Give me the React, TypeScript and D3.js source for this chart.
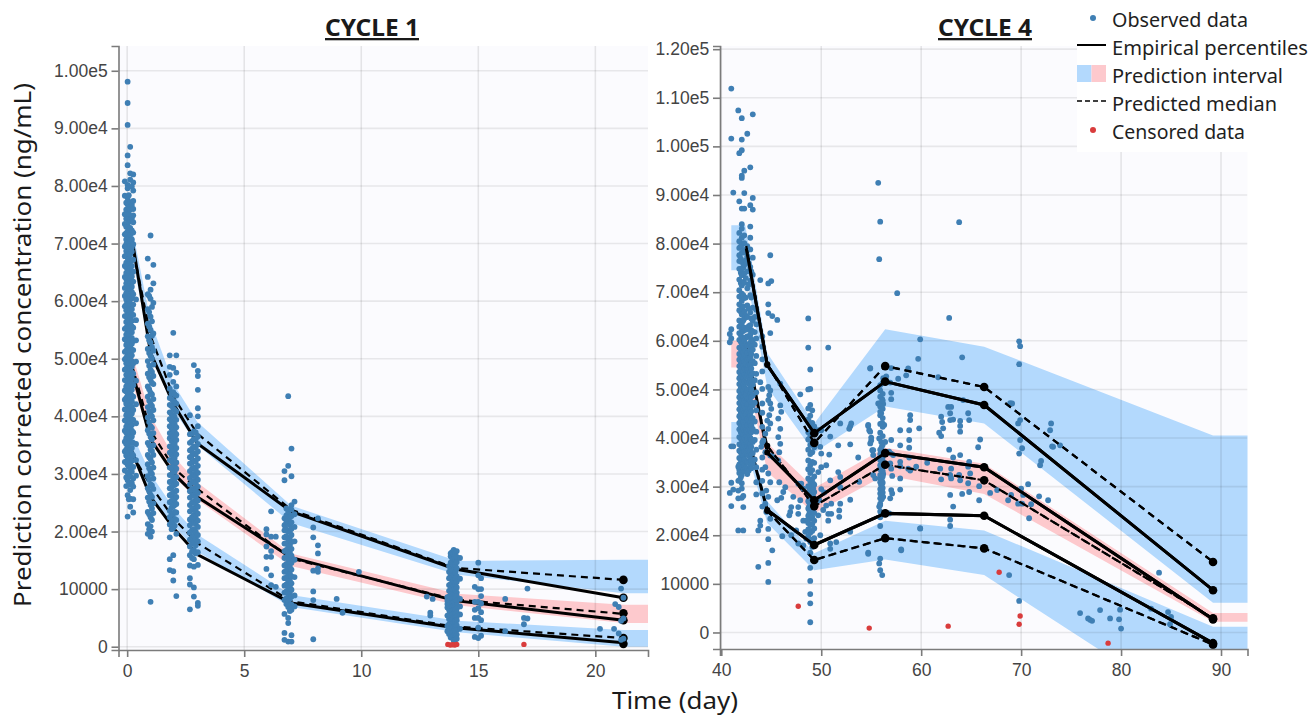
import React, { useEffect, useRef } from "react";
import * as d3 from "d3";

type Column = [number, number[]];
type Pt = [number, number];

// ---------- CYCLE 1 (values in thousands of ng/mL) ----------
const c1Times = [0.2, 1, 2, 3, 7, 14, 21.2];
const c1EmpHi = [71, 51, 42, 35.3, 23.5, 13.5, 8.5];
const c1EmpMd = [48, 36, 30, 26, 15.5, 8, 4.6];
const c1EmpLo = [34, 26, 20.5, 16, 7.6, 3.3, 0.7];
const c1PredHi = [70, 54, 43.2, 37, 23.8, 13.7, 11.6];
const c1PredMd = [49, 37.5, 31, 27.4, 15.3, 8.2, 5.7];
const c1PredLo = [33.5, 28, 22.2, 18, 7.9, 3.5, 1.5];

const c1BandT = [0.2, 1, 2, 3, 7, 14.1, 21.2, 22.3];
const c1UpLo = [68, 51, 41, 35, 21.5, 12.5, 9.3, 9.3];
const c1UpHi = [73, 56.5, 45.5, 39, 24.5, 14.9, 15.1, 15.1];
const c1MdLo = [46, 36, 29.5, 25.5, 14, 7.2, 4.1, 4.1];
const c1MdHi = [51, 40, 33, 28.5, 16.2, 9.2, 7.3, 7.3];
const c1LwLo = [33, 26, 21, 16.5, 6.9, 2.5, 0, 0];
const c1LwHi = [37, 30, 24, 19.5, 9, 4.5, 2.9, 2.9];

const c1Columns: Column[] = [
  [0.02, [98.1, 94.4, 90.6, 85.3, 83.6, 80.2, 79.6, 77.9, 76.8, 75.5, 74.6, 73.2, 72.1, 71.2, 70.1, 69.2, 68.4, 67.5, 66.3, 65.4, 64.6, 63.7, 62.8, 61.9, 60.7, 59.8, 58.9, 57.8, 56.9, 55.7, 54.6, 53.8, 52.7, 51.8, 50.6, 49.5, 48.7, 47.6, 46.5, 45.7, 44.8, 43.6, 42.7, 41.5, 40.6, 39.7, 38.6, 37.8, 36.7, 35.8, 34.6, 33.7, 32.5, 31.6, 30.2, 28.9, 26.3, 22.6]],
  [-0.1, [80.8, 78.3, 75.1, 73.4, 71.6, 69.5, 67.8, 66.1, 64.2, 62.3, 60.9, 59.1, 57.4, 55.2, 53.4, 51.2, 49.9, 48.1, 46.3, 44.5, 42.9, 41.2, 39.3, 37.5, 35.6, 33.9, 32.1, 30.6]],
  [-0.04, [77.1, 75.9, 74.3, 72.9, 71.8, 70.7, 69.9, 68.7, 67.9, 66.7, 65.9, 64.9, 63.9, 63.1, 62.4, 61.4, 60.3, 59.4, 58.4, 57.4, 56.4, 55.4, 54.2, 53.2, 52.4, 51.4, 50.2, 49.2, 48.3, 47.2, 46.2, 45.2, 44.3, 43.2, 42.2, 41.1, 40.2, 39.2, 38.2, 37.2, 36.2, 35.2, 34.2, 33.2, 32, 29.4, 27.9]],
  [0.07, [78.4, 76.4, 75.2, 73.8, 72.4, 71, 70.3, 69.4, 68.2, 67.3, 66.4, 65.2, 64.3, 63.4, 62.4, 61.5, 60.4, 59.5, 58.5, 57.5, 56.5, 55.2, 54.3, 53.4, 52.4, 51.3, 50.3, 49.3, 48.4, 47.4, 46.4, 45.3, 44.3, 43.3, 42.4, 41.3, 40.4, 39.4, 38.4, 37.3, 36.3, 35.3, 34.4, 33.4, 31.3, 30.1, 28.1, 25.6]],
  [0.13, [86.8, 82.2, 81.1, 77.2, 75.9, 74.1, 72.7, 71.5, 70.4, 69.6, 68.1, 66.9, 65.7, 64.1, 63.1, 62.2, 60.9, 59.6, 58.4, 57.1, 56.2, 54.9, 53.4, 52.2, 51.1, 49.9, 48.2, 47.1, 45.9, 44.2, 43.2, 41.9, 40.2, 39.1, 38.2, 36.9, 35.7, 34.1, 33.1, 31.9, 30.7, 29.6, 28.5, 27.2, 25.7, 24.3]],
  [0.2, [79.9, 76.7, 74.4, 72.3, 70.7, 69.3, 68.6, 67.1, 66.1, 65.1, 64.3, 63.3, 62.5, 61.6, 60.5, 59.4, 58.6, 57.6, 56.6, 55.6, 54.6, 53.6, 52.6, 51.6, 50.6, 49.6, 48.6, 47.6, 46.6, 45.6, 44.6, 43.6, 42.6, 41.6, 40.5, 39.5, 38.5, 37.5, 36.5, 35.5, 34.5, 33.5, 32.3, 30.4, 28.4]],
  [0.26, [82, 80.6, 79.2, 77.4, 76, 74.9, 73.7, 71.9, 69.9, 67.2, 65.1, 63.4, 61.2, 59.4, 57.6, 55.4, 53.1, 51.5, 49.2, 47.4, 45.4, 43.4, 41.1, 39.4, 37.2, 35.4, 33.2, 31.2, 29.2, 27.8, 25.6, 23.3]],
  [0.38, [60.3, 56.7, 53.2, 49.5, 46.2, 42.1, 38.8, 35.2, 32.4, 29.7]],
  [0.88, [67.4, 64.2, 61.2, 58.6, 56.1, 53.9, 51.7, 49.6, 47.4, 45.2, 43.4, 41.6, 39.8, 37.6, 35.4, 33.3, 31.7, 29.6, 27.5, 25.9, 23.4, 21.3, 19.6]],
  [0.94, [60.9, 58.1, 55.6, 53.2, 51, 48.8, 46.8, 44.7, 42.7, 40.9, 39, 37, 35, 32.9, 31, 29, 27, 25.2, 23, 20.4]],
  [1.0, [71.4, 62, 60.4, 57.3, 55, 52.8, 50.5, 48.1, 46.3, 44.1, 42.2, 40.4, 38.3, 36.4, 34.2, 32.6, 30.4, 28.2, 26.4, 24.6, 22.5, 20.9, 19.1, 7.8]],
  [1.06, [59, 56.5, 54, 52, 50, 47.7, 45.8, 43.8, 41.8, 40, 38, 36, 34, 32, 30, 28, 26, 24, 22, 20]],
  [1.12, [66.3, 63.1, 59.7, 54.4, 51.4, 49, 47, 45.6, 43, 41.1, 39.3, 37.1, 35, 33.3, 31.1, 29.2, 27.4, 24.9, 23.2]],
  [1.82, [50.6, 48.6, 47.2, 44.8, 43.2, 42, 40.7, 39.5, 38.3, 37.1, 36.2, 34.8, 33.7, 32.4, 31.1, 29.8, 28.6, 27.5, 26.3, 25.1, 23.6, 22.5, 21.2, 19, 15.2, 13.3]],
  [1.9, [44, 43, 41.8, 40.3, 39.1, 37.9, 36.8, 35.7, 34.5, 33.3, 32.2, 31, 29.9, 28.7, 27.7, 26.5, 25.3, 24.2, 23, 21.7, 20.4]],
  [1.97, [54.5, 48.4, 46, 44.2, 42.7, 41.3, 40.1, 38.8, 37.7, 36.5, 35.4, 34.1, 33.1, 31.8, 30.4, 29.2, 28, 26.8, 25.7, 24.4, 23.1, 21.9, 20.6, 15.9, 13.1, 11.5]],
  [2.03, [43.8, 42.5, 41.1, 39.9, 38.6, 37.4, 36.3, 35.2, 34, 32.8, 31.5, 30.4, 29.1, 28.1, 26.9, 25.6, 24.6, 23.4, 22.2, 21]],
  [2.1, [50.6, 47.6, 45.2, 43.6, 42.2, 40.8, 39.4, 38.1, 36.9, 35.9, 34.5, 33.4, 32, 30.9, 29.5, 28.3, 27.1, 26, 24.8, 23.3, 22, 19.6, 8.8]],
  [2.68, [40.2, 36.9, 35.4, 34.1, 32.9, 31.8, 30.5, 29.3, 28.2, 27, 25.9, 24.6, 23.5, 22.1, 21.1, 19.8, 18.6, 17.4, 15.9, 14.1, 11.9, 10.8, 6.5]],
  [2.77, [37, 35.7, 34.4, 33.2, 32, 30.9, 29.7, 28.5, 27.3, 26.2, 25, 23.8, 22.5, 21.5, 20.2, 19, 17.9, 16.5, 15.4]],
  [2.85, [48.9, 37.4, 36.1, 34.8, 33.6, 32.3, 31.1, 30, 28.8, 27.5, 26.4, 25.2, 24, 22.9, 21.7, 20.4, 19.3, 18.1, 16.8, 15.2, 13.9, 10.3, 8.7]],
  [2.93, [37.2, 36, 34.6, 33.4, 32.1, 30.8, 29.6, 28.4, 27.2, 26, 24.8, 23.6, 22.4, 21.3, 20, 18.8, 17.6, 16.2]],
  [3.02, [47.9, 47, 44.6, 41.4, 40, 38.3, 36.5, 35.2, 33.9, 32.7, 31.4, 30.2, 29, 27.8, 26.7, 25.4, 24.3, 23.1, 21.9, 20.8, 19.4, 18.3, 16.4, 14.2, 7.6, 7.1]],
  [5.95, [20.4, 19.5, 17.4, 15.6, 13.5]],
  [6.15, [23.5, 19.1, 16.6, 15.6, 12.4, 10.7]],
  [6.35, [19.1, 10.4]],
  [6.72, [30.5, 28.9, 22.3, 21.1, 20.2, 19, 17.9, 16.6, 15.4, 14.1, 13, 11.9, 10.6, 9.4, 8.1, 5.7, 2.4, 1.2]],
  [6.8, [24, 22.8, 21.6, 20.4, 19.2, 18, 16.8, 15.6, 14.4, 13.2, 12, 10.8, 9.6, 8.4, 7.4]],
  [6.88, [43.5, 31.4, 23.4, 22.2, 21.3, 20, 18.7, 17.4, 16.2, 15.2, 13.8, 12.6, 11.4, 10.2, 9.1, 7.8, 6.9, 5, 4.1, 0.9]],
  [6.95, [23.9, 22.5, 21.2, 20, 18.9, 17.6, 16.4, 15, 13.9, 12.7, 11.5, 10.4, 9.4, 8.3, 7.2, 6.2]],
  [7.02, [34.4, 29.6, 24.6, 23.8, 22.7, 21.6, 20.5, 19.4, 18.2, 17, 15.8, 14.6, 13.4, 12.2, 11, 9.9, 8.7, 7.3, 6.4, 2, 0.9]],
  [7.15, [25.2, 23, 20.8, 18.3, 15.1, 12.1, 8.9, 7]],
  [7.95, [20.7, 19, 8.1, 9.6, 13.2, 1.3]],
  [8.15, [22.3, 17.6, 16.2, 13, 13.6]],
  [8.95, [8.3]], [9.2, [5.9]],
  [9.9, [13]],
  [12.8, [8.7]], [12.95, [5.9, 5.4]], [13.05, [8.3]],
  [13.68, [8.6, 8, 7.4, 6.8, 5.4, 3.6, 2.7]],
  [13.75, [14, 13, 11.9, 10.7, 9.7, 8.7, 7.9, 7.2, 6.4, 5.6, 4.8, 3.9, 3.1, 2.2]],
  [13.82, [16.2, 15.7, 14.6, 13.5, 12.5, 11.9, 10.9, 10.1, 9.5, 8.9, 8.2, 7.5, 6.8, 6.1, 5.3, 4.5, 3.9, 3, 2.3, 1.6]],
  [13.88, [16.4, 15.4, 14.3, 13.1, 12, 11, 10, 9.2, 8.4, 7.6, 6.9, 6.2, 5.5, 4.7, 4, 3.2, 2.5, 1.7]],
  [13.95, [16.8, 16.1, 15.2, 14.1, 13.3, 12.5, 11.5, 10.5, 9.8, 9.1, 8.5, 7.7, 7.1, 6.4, 5.7, 5, 4.2, 3.4, 2.6, 1.9, 1.1]],
  [14.02, [16.3, 15.2, 14.2, 12.9, 11.9, 10.8, 9.8, 9, 8.3, 7.4, 6.7, 6, 5.3, 4.4, 3.6, 2.7, 2, 1.2]],
  [14.08, [16.6, 15.6, 14.7, 13.6, 12.2, 11.3, 10.3, 9.4, 8.8, 8, 7.2, 6.6, 5.9, 5.2, 4.6, 3.7, 2.9, 2.1, 1.4]],
  [14.22, [15.4, 11.8, 8.3, 7, 5.6, 3.1]],
  [14.85, [10.4, 7.8, 6.4, 5, 1.7]],
  [15.0, [14.6, 12.4, 10, 7.8, 6.7, 5, 3.3, 1.5]],
  [15.12, [11.9, 10, 8.8, 7.5, 6, 4.6, 1.9]],
  [16.15, [8.3, 2.7]], [16.95, [5, 3.9]], [17.1, [10.1, 4.9]],
  [20.2, [3.1]], [20.8, [3.1]], [20.85, [7.4]], [21, [6.9, 2.3]], [21.1, [10.1, 4.5, 1.2]], [21.2, [8.5, 4.9, 1.4]],
];
const c1Censored: Pt[] = [[13.7, 0.4], [13.8, 0.3], [13.9, 0.35], [14, 0.3], [14.08, 0.4], [16.95, 0.4]];
const c1EndMarkers = [11.6, 8.5, 5.8, 4.6, 1.5, 0.5];

// ---------- CYCLE 4 ----------
const c4Times = [42.5, 44.6, 49.3, 56.4, 66.3, 89.2];
const c4EmpHi = [79, 55, 41, 51.6, 46.8, 8.7];
const c4EmpMd = [59, 37, 27.2, 36.9, 34, 2.7];
const c4EmpLo = [41, 25.2, 18, 24.5, 24, -2.2];
const c4PredHi = [79.5, 55.2, 39, 54.8, 50.5, 14.5];
const c4PredMd = [57, 38.4, 26, 34.5, 31.3, 2.9];
const c4PredLo = [42, 25, 14.9, 19.4, 17.3, -2.5];

const c4BandT = [41, 42.4, 44.6, 49.3, 56.4, 66.3, 89.2, 92.7];
const c4UpLo = [74.5, 74.5, 50.5, 37, 46.5, 43, 6.1, 6.1];
const c4UpHi = [83.8, 83.8, 57.5, 43, 62.4, 58.8, 40.5, 40.5];
const c4MdLo = [54.5, 54.5, 33, 24.5, 32.4, 28.5, 2.2, 2.2];
const c4MdHi = [60, 60, 39, 29.7, 38, 34.7, 4, 4];
const c4LwLo = [38.9, 38.9, 22.5, 12.8, 15, 11.8, -18.7, -18.7];
const c4LwHi = [43.3, 43.3, 27, 16.3, 23, 21, 1.2, 1.2];

const c4Columns: Column[] = [
  [41.8, [82.2, 80.5, 79.1, 77.6, 76.4, 74.8, 72.6, 70.4, 69.1, 67.5, 66.3, 64.2, 62.9, 61.6, 60.2, 58.6, 57.3, 56.1, 54.8, 53.6, 52.3, 51.1, 49.7, 48.4, 47.2, 45.9, 44.5, 43.1, 41.8, 40.2, 38.7, 37.4, 35.9, 34.6, 33.5, 32.8, 31.3, 88.7, 98.6]],
  [41.95, [79.4, 76.9, 74, 71.9, 69.1, 66, 63.2, 61.2, 59.8, 58.3, 56.8, 55.5, 54.2, 52.9, 51.6, 50.3, 49, 47.7, 46.4, 45.1, 43.8, 42.5, 41.2, 39.9, 38.5, 37, 35.5, 34.1, 31.9]],
  [42.05, [84, 83.1, 81.2, 79.8, 78.1, 76.2, 74.9, 73.5, 71.4, 69.7, 68.2, 66.7, 65.4, 63.6, 62.1, 60.7, 59.2, 57.9, 56.6, 55.2, 53.9, 52.7, 51.4, 50.1, 48.9, 47.5, 46.2, 44.9, 43.6, 42.3, 40.9, 39.6, 38.1, 36.8, 35.2, 33.9, 32.4, 30.7, 29.6, 27.7, 87.2, 93.5, 94, 99.2, 101.4, 105.8]],
  [42.2, [78.2, 75.1, 72.1, 69.4, 67.1, 64.2, 62, 60.4, 59, 57.6, 56.3, 55, 53.7, 52.4, 51.1, 49.8, 48.5, 47.2, 45.9, 44.6, 43.3, 42, 40.7, 39.4, 38, 36.4, 35, 33.6]],
  [42.3, [81.7, 80.1, 78.7, 75.6, 73.9, 71.9, 68.8, 66.1, 64.6, 62.7, 60.1, 58.6, 57.1, 55.7, 54.4, 53, 51.7, 50.5, 49.1, 47.8, 46.6, 45.3, 44.2, 42.7, 41.4, 40, 38.5, 37.2, 35.6, 34.3, 33.2, 95, 90.4, 87.2]],
  [42.45, [76.6, 72.9, 68.9, 65.2, 62.3, 60.7, 59.3, 57.9, 56.6, 55.3, 54, 52.7, 51.4, 50.1, 48.8, 47.5, 46.2, 44.9, 43.6, 42.3, 41, 39.6, 38.2, 36.8, 35.2, 33.9]],
  [42.6, [79.5, 77.4, 74.3, 70.8, 67.3, 64.9, 62.4, 60.9, 59, 57.5, 56.2, 54.1, 52.9, 51.5, 49.9, 48.1, 46.9, 45.5, 44, 42.6, 41.1, 39.8, 38.3, 36.6, 35.1, 33.7, 32.6, 102.6]],
  [42.75, [76, 71.6, 66.6, 63, 60.8, 59.3, 57.8, 56.4, 55, 53.7, 52.4, 51.2, 49.6, 48.3, 47, 45.7, 44.3, 43, 41.7, 40.3, 39, 37.7, 36.3, 34.9, 33.3]],
  [42.9, [83.5, 81.2, 78.8, 75.2, 72.4, 69.4, 65.8, 63.2, 61.3, 59.6, 58, 56.6, 55.1, 53.6, 52.1, 50.7, 49.2, 47.6, 46.1, 44.6, 43.2, 41.7, 40.1, 38.8, 37.4, 35.7, 34.1, 95.7, 87.9]],
  [43.0, [74.3, 68.9, 64.6, 62.2, 60.4, 58.9, 57.3, 55.7, 54.3, 52.9, 51.5, 50, 48.5, 47, 45.5, 44.1, 42.6, 41.2, 39.7, 38.2, 36.7, 35.4, 33.8]],
  [43.15, [77.1, 73.6, 66.8, 64.1, 61.9, 60, 58.2, 55.8, 53.3, 51, 48.8, 46.7, 44.1, 41.9, 39.2, 36.9, 34.8, 106.6, 89.4, 87]],
  [43.35, [64.9, 61.8, 59.2, 55.4, 51.9, 47.3, 43.4, 39.6, 35.6]],
  [43.5, [66.4, 63.4, 60.5, 56.9, 53.2, 49.4, 45.7, 41.3, 37.6, 34, 30.9, 28.4]],
  [44.1, [60.9, 58.8, 56.2, 53.7, 50.1, 47.1, 45.2, 42.3, 39.1, 36, 33.5, 31.2, 28.6, 25.9]],
  [41.0, [111.9, 101.6, 62.4, 60.5, 38.3, 30.8, 26]],
  [40.85, [61.4, 59.7, 28.7]],
  [41.2, [90.5, 29.4, 38.3]],
  [41.7, [107.4, 21, 34.1, 31.2, 29.2, 27.6]],
  [42.2, [21, 25.8, 28.1]],
  [48.7, [64.6, 58.6, 50, 46.1, 43.8, 41.2, 39.7, 37.6, 35.4, 33.6, 31.7, 30.1, 28.6, 27, 25.5, 24, 22.5, 21.2, 19.8]],
  [48.8, [30, 29.2, 28.4, 27.6, 26.8, 26, 25.2, 24.4]],
  [48.9, [54.1, 50.1, 46.8, 44.6, 42.9, 40.4, 38.6, 36.7, 34.4, 32.8, 31.1, 29.4, 27.9, 26.4, 24.9, 23.4, 22.1, 20.5, 18.6, 16.4, 13.3, 10.6, 7.9, 6, 2.1]],
  [49.1, [45.7, 43.1, 41.9, 39.2, 37.1, 35.1, 33.4, 31.5, 29.9, 28.2, 26.8, 25.2, 23.7, 22.3, 20.9, 19.1, 17.6]],
  [49.2, [30.6, 29.6, 28.7, 27.9, 27.1, 26.3, 25.5, 24.7]],
  [49.3, [42.4, 38.1, 34.9, 32.1, 30.4, 28.9, 27.5, 26.1, 24.6, 23, 21.4, 19.4]],
  [50.7, [58.6]],
  [55.9, [50.9, 49.8, 48.5, 47.2, 46.5, 44.7, 42.9, 41.1, 37.6, 36.7, 33.6, 31.8, 30.9, 29.5, 27.6, 26.2, 24.9, 23.7]],
  [56.05, [38.2, 37.3, 36.4, 35.4, 34.4, 33.4, 32.4, 31.4, 30.4, 29.4, 28.4, 27.4]],
  [56.15, [51.4, 49.1, 47.7, 46, 44.1, 42.3, 40.4, 38.6, 36.1, 35.3, 34.1, 33.2, 32.1, 30.8, 29.7, 28.8]],
];
const c4Scatter: Pt[] = [
  [44.9, 77.6], [43.9, 72.5], [45, 72.3], [44.7, 71.8], [44.7, 67.5], [44.7, 65.7], [45.1, 65.1], [45.6, 64.3], [44.9, 61.6],
  [45.9, 51.2], [43.9, 51.5], [44.7, 50.5], [44.9, 49.8], [44.8, 48.8], [44.7, 47.8], [44.9, 47.1], [45, 46], [44.8, 44.7], [44.6, 43.6], [44.9, 43], [44.7, 41.9], [44.4, 40.9], [44.2, 39.5], [44, 38.2], [44.4, 37.1], [44.9, 36.4], [45.2, 36.1], [44.4, 34], [44.7, 32.7], [44.9, 30.9], [44.5, 29.2], [44.7, 27.9], [44.4, 26.5], [44.5, 24.8], [44.9, 23.4], [43.9, 23], [43.9, 22], [43.7, 21], [44.7, 21.3],
  [43.7, 13.5], [44.7, 14.3], [45.1, 16.9], [44.7, 19.2], [44.7, 10.4],
  [45.9, 46.7], [46, 45.4], [45.7, 44], [45.9, 41.9], [45.7, 40.2], [45.9, 38.8], [45.8, 37.1], [45.7, 35.4], [45.8, 30.9], [46.4, 29.9], [46.2, 28.9], [46, 27.7], [45.6, 27.2], [46.9, 24.8], [46.8, 24.1], [46.1, 19.8], [47, 20], [47.5, 21], [47.7, 18.3], [48.2, 17.9], [48.5, 19.3], [47.7, 30.6], [48, 30.6], [47.2, 27.9], [47, 25.8], [48.2, 29.6], [47.9, 27.2], [47.7, 25.8], [48.2, 23], [48.4, 20.7], [47.7, 24.4], [48.5, 23], [47.9, 49],
  [49.9, 38.2], [50, 36.8], [49.7, 33], [50, 34], [49.7, 41.6], [50, 41.6], [50.9, 40.3], [51.7, 38.5], [52.9, 38.7], [52.9, 42.4], [53, 43], [51.9, 43], [52.8, 41.9], [51.7, 33], [51.9, 32], [51.9, 29.9], [50.9, 31.3], [50.5, 34.4], [50.8, 36.6], [53.7, 36], [53.8, 31], [52.9, 27.3], [51.9, 26.5], [51.8, 25.1], [51.8, 23.8], [51, 26.5], [50.7, 24.4], [51, 24.4], [50.7, 23], [52.9, 20.7], [51.5, 18.6], [50.9, 18.3], [50.9, 17.2], [49.9, 20], [54.7, 42.5], [54.8, 41.6], [55, 39.5], [55.1, 37.5], [54.9, 54.3], [57.7, 52.2], [54.7, 16.2], [58, 16.9], [59.9, 21.4], [58.7, 54.3], [58.5, 52.9],
  [50, 29.5], [49.8, 27.2], [50.3, 28.8], [50.5, 26.1], [50.2, 25.2], [49.7, 24.1],
  [55.7, 92.5], [55.9, 84.5], [63.8, 84.4], [55.8, 76.8], [57.6, 69.8], [62.8, 64.7], [59.9, 60.3], [59.7, 56.3], [64.1, 56.6], [69.8, 59.9], [69.9, 58.9], [69.8, 55.2], [54.9, 54.4], [57, 54.4], [56.5, 52.7], [56.2, 52.3], [61.7, 52.5], [56.9, 51.4], [57, 49.3], [57, 48], [56.1, 48], [64.2, 47.8], [62.7, 46.4], [68.9, 47.2],
  [55.7, 47.1], [56.2, 47], [55.9, 45.4], [56, 45.1], [56.1, 43.1], [56.3, 42.7], [54.7, 42.7], [54.9, 41.3], [55, 40.1], [54.9, 38.9], [55.8, 39.9], [56, 39.2], [56.4, 39.2], [57, 39.6], [57.9, 41.6], [58.8, 41.6], [59.8, 42], [58.9, 44.7], [58.9, 43.7], [57.9, 38.5], [58.8, 39.6], [58.8, 38], [55.2, 37.5], [55.2, 36.5], [57, 36.8], [57.2, 36.5], [56.8, 37.2], [55.9, 35.5], [55.9, 34.4], [56.4, 34.8], [56.9, 34.8], [57, 33.7], [57.9, 35.1], [57.9, 34.2], [58.8, 36], [58.7, 33.7], [58.9, 33.3], [59.5, 34.1], [60.6, 34.9], [55.2, 32.4], [55.4, 31.7], [55.9, 32.4], [56.2, 32.6], [57.1, 32.2], [56, 31.3], [56, 30.3], [57.9, 31.7], [55.9, 28.6], [56.2, 27.9], [57, 29.3], [57.1, 28.6], [56.9, 27.6], [57.9, 29.4], [55.9, 26.5], [55.8, 25.9], [56.4, 24.5], [56.8, 24.5], [55.9, 21.9], [59.9, 21.4], [54.7, 16.4], [58, 17.1], [55.9, 15.2], [55.8, 14.2], [55.9, 12.8], [56.1, 11.8],
  [62, 44.4], [62.1, 43.3], [62.2, 42], [61.8, 41.1], [62, 40.4], [63, 46.4], [62.9, 45.1], [62.9, 43.7], [63.2, 43.8], [63.9, 43.5], [63.9, 42.5], [63.9, 41.3], [64.7, 45.1], [64.8, 43.7], [65.9, 39.7], [65.7, 38.1], [62.8, 37.6], [63.2, 36], [63.9, 36.5], [61.9, 33.7], [63, 33.7], [62, 31.5], [62.9, 32.4], [63, 31.7], [63.8, 32.4], [63.9, 31.3], [64.8, 35.1], [64.7, 34.1], [64.9, 32.7], [64.7, 30.7], [62.9, 28.3], [64.1, 28.5], [64.8, 28.9], [65.8, 30.1], [65.8, 27.2], [63.2, 25.9], [62.9, 23.2], [62.9, 21.9],
  [66.9, 28.7], [67.6, 29.3], [68.7, 27.2], [69, 28.3], [69.7, 26.5], [70.1, 26.5], [70, 29.6], [70.7, 30.5], [70.2, 28.3], [71, 26.4], [71.8, 28], [72.7, 27.2], [70.8, 23.5], [68.8, 11.8], [69.8, 6.5], [69.9, 43.7], [69.7, 43], [69.9, 39.6], [69.8, 36.8], [70.1, 37.9], [69.1, 47.1], [73, 43], [72.9, 41.6], [73.2, 38.2], [72, 35.3], [71.9, 34.4], [73.9, 38.5], [73.1, 38.3],
  [83.8, 12.3], [75.9, 4], [76.7, 2.9], [76.9, 2.6], [77.1, 2.4], [77.9, 4.6], [78.9, 2.9], [79.9, 4.7], [79.8, 2.7], [80, 0.8], [83, 4.9], [84.7, 4.2], [85, 3.2], [84.9, 1.7],
];
const c4Censored: Pt[] = [[47.7, 5.4], [54.8, 0.9], [62.7, 1.3], [67.8, 12.4], [69.9, 3.4], [69.8, 1.7], [78.7, -2.2]];

const c1XTicks = [0, 5, 10, 15, 20];
const c4XTicks = [40, 50, 60, 70, 80, 90];
const c1YTicks = [0, 10, 20, 30, 40, 50, 60, 70, 80, 90, 100];
const c4YTicks = [0, 10, 20, 30, 40, 50, 60, 70, 80, 90, 100, 110, 120];

const legendLabels = ["Observed data", "Empirical percentiles", "Prediction interval", "Predicted median", "Censored data"];
const yLabel = "Prediction corrected concentration (ng/mL)";
const xLabel = "Time (day)";

const BLUE = "#3f7fb4";
const RED = "#d93c3c";
const BAND_BLUE = "#b3d9fd";
const BAND_PINK = "#fdc9cd";
const UI_FONT = "'Noto Sans', 'Open Sans', sans-serif";
const TICK_FONT = "'Liberation Sans', Arial, sans-serif";

const fmtTick = (k: number) => {
  if (k === 0) return "0";
  if (k === 10) return "10000";
  if (k >= 100) return (k / 100).toFixed(2) + "e5";
  return (k / 10).toFixed(2) + "e4";
};

interface PanelCfg {
  id: string;
  xDomain: [number, number];
  xRange: [number, number];
  yDomain: [number, number];
  yRange: [number, number];
  xTicks: number[];
  yTicks: number[];
  bandT: number[];
  bands: [number[], number[], string][];
  times: number[];
  solid: number[][];
  dashed: number[][];
  dotsOnTop: boolean;
  markers: boolean;
  endMarkers?: number[];
  columns: Column[];
  scatter: Pt[];
  censored: Pt[];
}

function drawPanel(svg: d3.Selection<SVGSVGElement, unknown, null, undefined>, c: PanelCfg) {
  const x = d3.scaleLinear().domain(c.xDomain).range(c.xRange);
  const y = d3.scaleLinear().domain(c.yDomain).range(c.yRange);
  const [xl, xr] = c.xRange;
  const [yb, yt] = c.yRange;
  const g = svg.append("g");
  g.append("clipPath").attr("id", c.id).append("rect").attr("x", xl).attr("y", yt).attr("width", xr - xl).attr("height", yb - yt);
  g.append("rect").attr("x", xl).attr("y", yt).attr("width", xr - xl).attr("height", yb - yt).attr("fill", "#fbfbfe");

  const plot = g.append("g").attr("clip-path", `url(#${c.id})`);
  c.bands.forEach(([lo, hi, col]) => {
    const area = d3.area<number>().x((_, i) => x(c.bandT[i])).y0((_, i) => y(lo[i])).y1((_, i) => y(hi[i]));
    plot.append("path").attr("d", area(c.bandT)!).attr("fill", col);
  });
  c.yTicks.forEach((t) => plot.append("line").attr("x1", xl).attr("x2", xr).attr("y1", y(t)).attr("y2", y(t)).attr("stroke", "#000").attr("stroke-opacity", 0.08).attr("stroke-width", 1.6));
  c.xTicks.forEach((t) => plot.append("line").attr("x1", x(t)).attr("x2", x(t)).attr("y1", yt).attr("y2", yb).attr("stroke", "#000").attr("stroke-opacity", 0.09).attr("stroke-width", 1.6));

  const line = d3.line<number>().x((d, i) => x(c.times[i])).y((d) => y(d));
  const lineFrom1 = d3.line<number>().x((d, i) => x(c.times[i + 1])).y((d) => y(d));
  const dash = (sel: any) => sel.attr("fill", "none").attr("stroke", "#000").attr("stroke-width", 2.2).attr("stroke-dasharray", "7 5");
  const solid = (sel: any) => sel.attr("fill", "none").attr("stroke", "#000").attr("stroke-width", 3);

  const drawDots = () => {
    const pts: Pt[] = [...c.scatter];
    c.columns.forEach(([cx, vals]) => vals.forEach((v) => pts.push([cx, v])));
    plot.append("g").selectAll("circle").data(pts).join("circle")
      .attr("cx", (d) => x(d[0])).attr("cy", (d) => y(d[1])).attr("r", 2.9).attr("fill", BLUE);
  };
  // all full lines first; in the second panel the later segments come back over the dots
  c.dashed.forEach((s) => dash(plot.append("path").attr("d", line(s)!)));
  c.solid.forEach((s) => solid(plot.append("path").attr("d", line(s)!)));
  if (c.endMarkers) {
    c.endMarkers.forEach((v) => plot.append("circle").attr("cx", x(c.times[c.times.length - 1])).attr("cy", y(v)).attr("r", 4.3).attr("fill", "#000"));
  }
  drawDots();
  if (!c.dotsOnTop) {
    c.dashed.forEach((s, k) => dash(plot.append("path").attr("d", k === 0 ? line(s)! : lineFrom1(s.slice(1))!)));
    c.solid.forEach((s, k) => solid(plot.append("path").attr("d", k === 0 ? line(s)! : lineFrom1(s.slice(1))!)));
  }
  if (c.markers) {
    [...c.solid, ...c.dashed].forEach((s) => s.forEach((v, i) => {
      if (i === 0) return;
      plot.append("circle").attr("cx", x(c.times[i])).attr("cy", y(v)).attr("r", i === 1 ? 3 : 4.3).attr("fill", "#000");
    }));
  }
  plot.append("g").selectAll("circle").data(c.censored).join("circle")
    .attr("cx", (d) => x(d[0])).attr("cy", (d) => y(d[1])).attr("r", 2.7).attr("fill", RED);

  const ax = g.append("g").attr("transform", `translate(0,${yb})`).call(d3.axisBottom(x).tickValues(c.xTicks).tickFormat(d3.format("d") as any).tickSize(7));
  const ay = g.append("g").attr("transform", `translate(${xl},0)`).call(d3.axisLeft(y).tickValues(c.yTicks).tickFormat(fmtTick as any).tickSize(7));
  [ax, ay].forEach((a) => {
    a.selectAll("path,line").attr("stroke", "#7b7b7b").attr("stroke-width", 1.6);
    a.selectAll("text").attr("fill", "#444").attr("font-family", TICK_FONT).attr("font-size", 17.5);
  });
  ax.selectAll("text").attr("dy", "0.95em");
  ay.selectAll("text").attr("dx", "-0.05em");
}

export default function App() {
  const ref = useRef<SVGSVGElement | null>(null);
  useEffect(() => {
    const svg = d3.select(ref.current!) as d3.Selection<SVGSVGElement, unknown, null, undefined>;
    svg.selectAll("*").remove();

    drawPanel(svg, {
      id: "clip1",
      xDomain: [-0.37, 22.25], xRange: [118.5, 648],
      yDomain: [-0.57, 104.3], yRange: [650, 46],
      xTicks: c1XTicks, yTicks: c1YTicks,
      bandT: c1BandT,
      bands: [[c1UpLo, c1UpHi, BAND_BLUE], [c1LwLo, c1LwHi, BAND_BLUE], [c1MdLo, c1MdHi, BAND_PINK]],
      times: c1Times,
      solid: [c1EmpHi, c1EmpMd, c1EmpLo], dashed: [c1PredHi, c1PredMd, c1PredLo],
      dotsOnTop: true, markers: false, endMarkers: c1EndMarkers,
      columns: c1Columns, scatter: [], censored: c1Censored,
    });
    drawPanel(svg, {
      id: "clip4",
      xDomain: [39.87, 92.65], xRange: [720, 1247.5],
      yDomain: [-3.4, 120.65], yRange: [649, 46],
      xTicks: c4XTicks, yTicks: c4YTicks,
      bandT: c4BandT,
      bands: [[c4UpLo, c4UpHi, BAND_BLUE], [c4LwLo, c4LwHi, BAND_BLUE], [c4MdLo, c4MdHi, BAND_PINK]],
      times: c4Times,
      solid: [c4EmpHi, c4EmpMd, c4EmpLo], dashed: [c4PredHi, c4PredMd, c4PredLo],
      dotsOnTop: false, markers: true,
      columns: c4Columns, scatter: c4Scatter, censored: c4Censored,
    });

    // titles and axis labels
    const label = (t: string, xp: number, yp: number, size: number, len: number, extra: (s: any) => void = () => {}) => {
      const s = svg.append("text").text(t).attr("x", xp).attr("y", yp).attr("font-family", UI_FONT).attr("font-size", size)
        .attr("fill", "#1a1a1a").attr("text-anchor", "middle").attr("textLength", len).attr("lengthAdjust", "spacingAndGlyphs");
      extra(s);
      return s;
    };
    label("CYCLE 1", 372, 36, 23, 94, (s) => s.attr("font-weight", 700).attr("text-decoration", "underline"));
    label("CYCLE 4", 985, 36, 23, 94, (s) => s.attr("font-weight", 700).attr("text-decoration", "underline"));
    label(xLabel, 675, 709, 24, 126);
    label(yLabel, 0, 0, 23, 524, (s) => s.attr("transform", "translate(31,345) rotate(-90)"));

    // legend
    const lg = svg.append("g");
    lg.append("rect").attr("x", 1077).attr("y", 0).attr("width", 234).attr("height", 152).attr("fill", "#fff");
    const rowY = [19, 47, 75, 103, 131];
    const lens = [136, 196, 171, 165, 133];
    legendLabels.forEach((t, i) => {
      lg.append("text").text(t).attr("x", 1112).attr("y", rowY[i] + 7.5).attr("font-family", UI_FONT).attr("font-size", 19)
        .attr("fill", "#1f1f1f").attr("textLength", lens[i]).attr("lengthAdjust", "spacingAndGlyphs");
    });
    lg.append("circle").attr("cx", 1093).attr("cy", 18).attr("r", 3).attr("fill", BLUE);
    lg.append("line").attr("x1", 1077).attr("x2", 1106).attr("y1", 45).attr("y2", 45).attr("stroke", "#000").attr("stroke-width", 2);
    lg.append("rect").attr("x", 1077).attr("y", 65).attr("width", 14.5).attr("height", 17).attr("fill", BAND_BLUE);
    lg.append("rect").attr("x", 1091.5).attr("y", 65).attr("width", 14.5).attr("height", 17).attr("fill", BAND_PINK);
    lg.append("line").attr("x1", 1077).attr("x2", 1106).attr("y1", 101).attr("y2", 101).attr("stroke", "#000").attr("stroke-width", 1.6).attr("stroke-dasharray", "5 3");
    lg.append("circle").attr("cx", 1093).attr("cy", 130).attr("r", 3).attr("fill", RED);
  }, []);
  return <svg ref={ref} width={1311} height={716} style={{ position: "absolute", left: 0, top: 0, background: "#fff" }} />;
}
